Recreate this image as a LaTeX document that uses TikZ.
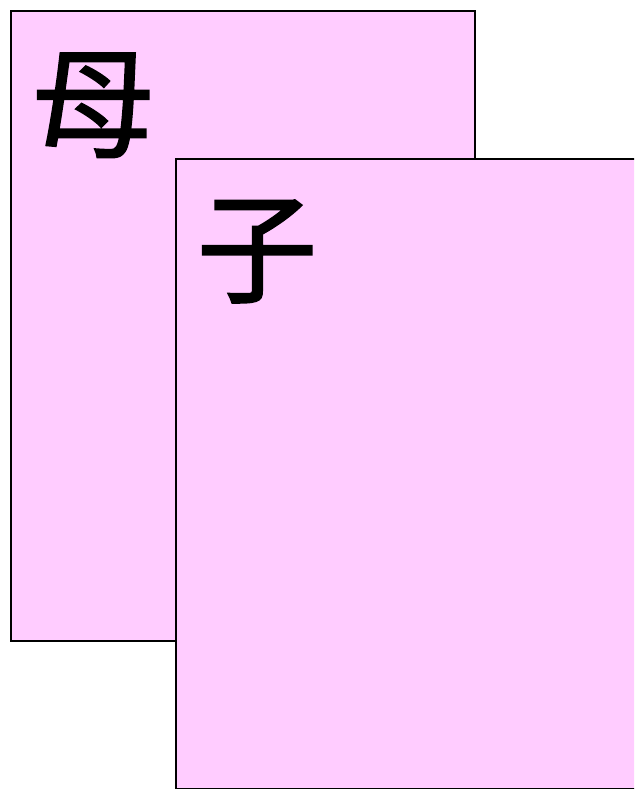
\documentclass[tikz,border=0pt]{standalone}
\usepackage{fontspec}
\newfontfamily\cjk[FakeBold=1.5]{Noto Sans CJK JP}
\definecolor{paper}{HTML}{FFCCFF}
\begin{document}
\begin{tikzpicture}[x=1pt,y=-1pt,
  sheet/.style={draw=black, line width=2pt, fill=paper},
  glyph/.style={inner sep=0pt, anchor=base west, font=\cjk\fontsize{120}{120}\selectfont}]
\useasboundingbox (0,0) rectangle (634,789);
\clip (0,0) rectangle (634,789);
\node[sheet, minimum width=464pt, minimum height=630pt, anchor=north west, inner sep=0pt] (mother) at (10,10) {};
\node[glyph] (mtext) at (33,148) {母};
\node[sheet, minimum width=470pt, minimum height=630pt, anchor=north west, inner sep=0pt] (child) at (175,158) {};
\node[glyph] (ctext) at (197,293) {子};
\end{tikzpicture}
\end{document}
